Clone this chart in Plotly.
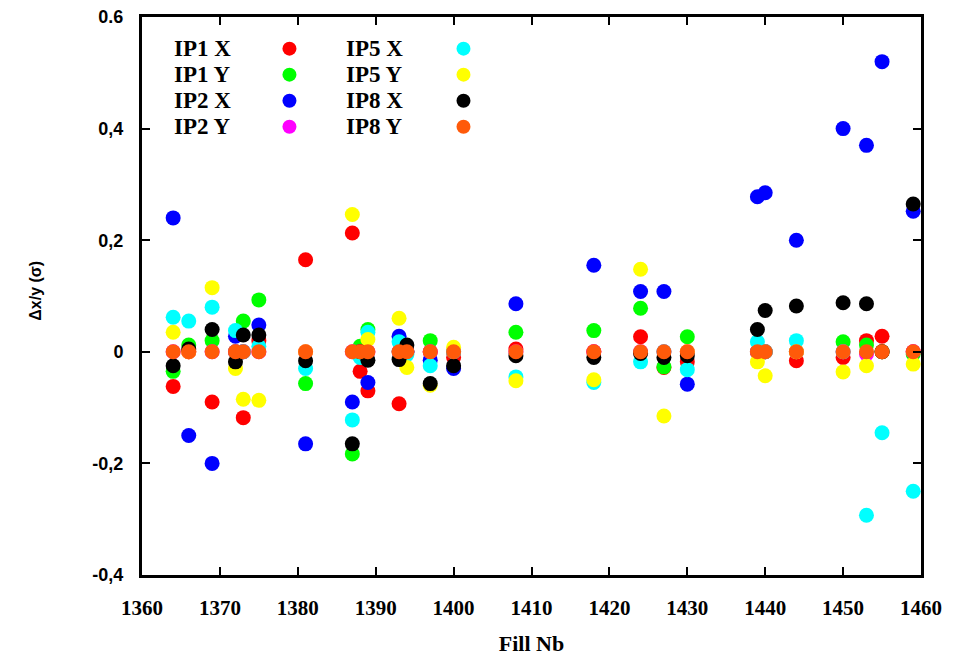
import plotly.graph_objects as go

# Fill numbers
fills = [1364, 1366, 1369, 1372, 1373, 1375, 1381, 1387, 1388, 1389, 1393, 1394, 1397,
         1400, 1408, 1418, 1424, 1427, 1430, 1439, 1440, 1444, 1450, 1453, 1455, 1459]

# Beam offsets (in sigma) per interaction point and plane
ip1_x = [-0.062, 0.0, -0.09, 0.0, -0.118, 0.02, 0.165, 0.213, -0.035, -0.07, -0.093, 0.0, 0.0,
         -0.01, 0.005, 0.0, 0.027, -0.028, -0.018, 0.0, 0.0, -0.016, -0.01, 0.02, 0.028, 0.0]
ip1_y = [-0.035, 0.012, 0.02, 0.0, 0.055, 0.093, -0.057, -0.183, 0.01, 0.04, 0.0, 0.0, 0.02,
         0.0, 0.035, 0.038, 0.078, -0.027, 0.027, 0.0, 0.0, 0.0, 0.018, 0.012, 0.0, -0.004]
ip2_x = [0.24, -0.15, -0.2, 0.028, 0.0, 0.048, -0.165, -0.09, 0.0, -0.055, 0.028, 0.0, -0.015,
         -0.03, 0.086, 0.155, 0.108, 0.108, -0.058, 0.278, 0.285, 0.2, 0.4, 0.37, 0.52, 0.252]
ip2_y = [0.0, 0.0, 0.0, 0.0, 0.0, 0.0, 0.0, 0.0, 0.0, 0.0, 0.0, 0.0, 0.0,
         0.0, 0.0, 0.0, 0.0, 0.0, 0.0, 0.0, 0.0, 0.0, 0.0, -0.004, 0.0, 0.0]
ip5_x = [0.062, 0.055, 0.08, 0.038, 0.0, 0.01, -0.03, -0.122, -0.01, 0.035, 0.018, -0.005, -0.025,
         0.0, -0.045, -0.055, -0.018, 0.0, -0.032, 0.018, 0.0, 0.02, 0.0, -0.293, -0.145, -0.25]
ip5_y = [0.035, 0.0, 0.115, -0.03, -0.085, -0.087, 0.0, 0.246, 0.0, 0.022, 0.06, -0.028, -0.06,
         0.008, -0.052, -0.05, 0.148, -0.115, 0.0, -0.018, -0.043, 0.0, -0.036, -0.025, 0.0, -0.022]
ip8_x = [-0.025, 0.005, 0.04, -0.018, 0.03, 0.03, -0.016, -0.165, 0.0, -0.015, -0.014, 0.012, -0.057,
         -0.025, -0.007, -0.01, -0.003, -0.01, -0.007, 0.04, 0.074, 0.082, 0.088, 0.086, 0.0, 0.265]
ip8_y = [0.0] * len(fills)

series_names = ["IP1 X", "IP1 Y", "IP2 X", "IP2 Y", "IP5 X", "IP5 Y", "IP8 X", "IP8 Y"]
series_values = [ip1_x, ip1_y, ip2_x, ip2_y, ip5_x, ip5_y, ip8_x, ip8_y]
series_colors = ["#ff0000", "#00ff00", "#0000ff", "#ff00ff", "#00ffff", "#ffff00", "#000000", "#ff5a0a"]

x_ticks = list(range(1360, 1461, 10))
y_ticks = [-0.4, -0.2, 0, 0.2, 0.4, 0.6]
y_ticktext = ["-0,4", "-0,2", "0", "0,2", "0,4", "0.6"]

serif = "Liberation Serif"
sans = "Liberation Sans"

fig = go.Figure()

for name, vals, col in zip(series_names, series_values, series_colors):
    fig.add_trace(go.Scatter(
        x=fills, y=vals, mode="markers", name=name, showlegend=False,
        marker=dict(color=col, size=15, line=dict(width=0)),
    ))

# Key: two columns of four entries, label text followed by a marker
key_x_text = [0.0385, 0.2593]   # paper x of label left edges
key_x_mark = [0.1893, 0.4127]   # paper x of markers
key_rows = [0.9433, 0.8967, 0.85, 0.8033]
for i, (name, col) in enumerate(zip(series_names, series_colors)):
    c, r = divmod(i, 4)
    fig.add_annotation(x=key_x_text[c], y=key_rows[r], xref="paper", yref="paper",
                       text=name, showarrow=False, xanchor="left", yanchor="middle",
                       font=dict(family=serif, size=23, color="black", weight="bold"))
    fig.add_trace(go.Scatter(
        x=[key_x_mark[c]], y=[key_rows[r]], xaxis="x2", yaxis="y2", mode="markers",
        showlegend=False, hoverinfo="skip",
        marker=dict(color=col, size=14, line=dict(width=0)),
    ))

fig.add_annotation(x=-0.137, y=0.51, xref="paper", yref="paper", text="Δx/y (σ)",
                   textangle=-90, showarrow=False, xanchor="center", yanchor="middle",
                   font=dict(family=sans, size=16, color="black", weight="bold"))

axis_common = dict(showgrid=False, zeroline=False, showline=True, linecolor="black",
                   linewidth=3, mirror="allticks", ticks="inside", ticklen=8,
                   tickwidth=2, tickcolor="black", automargin=False)

fig.update_layout(
    width=963, height=656,
    margin=dict(l=142, r=42, t=17, b=81),
    paper_bgcolor="white", plot_bgcolor="white",
    xaxis=dict(range=[1360, 1460], tickvals=x_ticks, ticklabelstandoff=12,
               tickfont=dict(family=serif, size=21, color="black", weight="bold"),
               title=dict(text="Fill Nb", standoff=18,
                          font=dict(family=serif, size=22, color="black", weight="bold")),
               **axis_common),
    yaxis=dict(range=[-0.4, 0.6], tickvals=y_ticks, ticktext=y_ticktext,
               ticklabelstandoff=12,
               tickfont=dict(family=sans, size=18, color="black", weight="bold"),
               **axis_common),
    xaxis2=dict(range=[0, 1], overlaying="x", visible=False, fixedrange=True),
    yaxis2=dict(range=[0, 1], overlaying="y", visible=False, fixedrange=True),
    showlegend=False,
)

fig.write_html("out.html")
